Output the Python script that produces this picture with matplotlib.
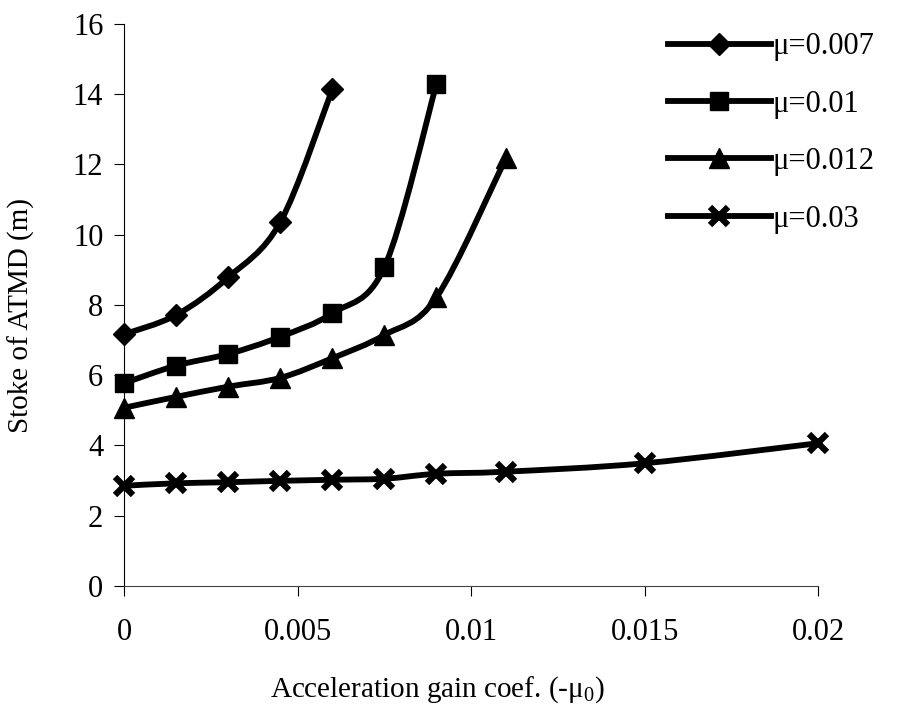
import matplotlib
matplotlib.use("Agg")
import matplotlib.pyplot as plt
from matplotlib.path import Path
from matplotlib.patches import PathPatch
from matplotlib.lines import Line2D

plt.rcParams['font.family'] = ['Liberation Serif', 'DejaVu Serif']
plt.rcParams['mathtext.fontset'] = 'custom'
plt.rcParams['mathtext.rm'] = 'Liberation Serif'

# data
x_007 = [0, 0.0015, 0.003, 0.0045, 0.006]
y_007 = [7.16, 7.71, 8.78, 10.35, 14.13]
x_010 = [0, 0.0015, 0.003, 0.0045, 0.006, 0.0075, 0.009]
y_010 = [5.77, 6.27, 6.60, 7.09, 7.76, 9.07, 14.28]
x_012 = [0, 0.0015, 0.003, 0.0045, 0.006, 0.0075, 0.009, 0.011]
y_012 = [5.07, 5.38, 5.67, 5.92, 6.48, 7.14, 8.21, 12.17]
x_030 = [0, 0.0015, 0.003, 0.0045, 0.006, 0.0075, 0.009, 0.011, 0.015, 0.02]
y_030 = [2.85, 2.92, 2.95, 2.99, 3.02, 3.05, 3.19, 3.25, 3.49, 4.06]
labels = ['μ=0.007', 'μ=0.01', 'μ=0.012', 'μ=0.03']
x_ticks = [0, 0.005, 0.01, 0.015, 0.02]
x_ticklabels = ['0', '0.005', '0.01', '0.015', '0.02']
y_ticks = [0, 2, 4, 6, 8, 10, 12, 14, 16]

series = [(x_007, y_007, 'D', 11), (x_010, y_010, 's', 13),
          (x_012, y_012, '^', 15), (x_030, y_030, 'x', 13)]

fig = plt.figure(figsize=(9.06, 7.18), dpi=100)
ax = fig.add_axes([0.137, 0.184, 0.766, 0.783])
ax.set_xlim(0, 0.02)
ax.set_ylim(0, 16)


def smooth_path(xs, ys):
    n = len(xs)
    pts = list(zip(xs, ys))
    verts = [pts[0]]
    codes = [Path.MOVETO]
    for i in range(n - 1):
        p0 = pts[i - 1] if i > 0 else pts[i]
        p1 = pts[i]
        p2 = pts[i + 1]
        p3 = pts[i + 2] if i + 2 < n else pts[i + 1]
        c1 = (p1[0] + (p2[0] - p0[0]) / 6, p1[1] + (p2[1] - p0[1]) / 6)
        c2 = (p2[0] - (p3[0] - p1[0]) / 6, p2[1] - (p3[1] - p1[1]) / 6)
        verts += [c1, c2, p2]
        codes += [Path.CURVE4] * 3
    return Path(verts, codes)


handles = []
for (xs, ys, mk, ms), lab in zip(series, labels):
    ax.add_patch(PathPatch(smooth_path(xs, ys), fill=False, lw=4.2,
                           edgecolor='black', capstyle='round', joinstyle='round',
                           zorder=3))
    if mk == 'x':
        ax.plot(xs, ys, linestyle='none', marker=mk, ms=ms, mew=4.5,
                color='black', zorder=4, clip_on=False)
        h = Line2D([], [], color='black', lw=4.2, marker=mk, ms=ms, mew=4.5)
    else:
        ax.plot(xs, ys, linestyle='none', marker=mk, ms=ms, color='black',
                zorder=4, clip_on=False)
        h = Line2D([], [], color='black', lw=4.2, marker=mk, ms=ms)
    handles.append(h)

ax.set_xticks(x_ticks)
ax.set_xticklabels(x_ticklabels)
ax.set_yticks(y_ticks)
for s in ['top', 'right']:
    ax.spines[s].set_visible(False)
ax.spines['left'].set_linewidth(0.8)
ax.spines['bottom'].set_linewidth(0.8)
ax.spines['bottom'].set_color('#444444')
ax.tick_params(axis='both', direction='out', length=7, width=0.8, labelsize=22,
               colors='black')
ax.tick_params(axis='x', pad=16)
ax.tick_params(axis='y', pad=8)

ax.set_xlabel('Acceleration gain coef. (-μ${}_0$)', fontsize=21)
ax.xaxis.set_label_coords(0.452, -0.158)
ax.set_ylabel('Stoke of ATMD (m)', fontsize=21)
ax.yaxis.set_label_coords(-0.128, 0.481)

fig.legend(handles=handles, labels=labels, loc='upper left',
           bbox_to_anchor=(0.724, 0.972), frameon=False, fontsize=22,
           handlelength=3.35, labelspacing=0.93, handletextpad=0.08,
           borderaxespad=0)

fig.savefig('out.png', dpi=100)
